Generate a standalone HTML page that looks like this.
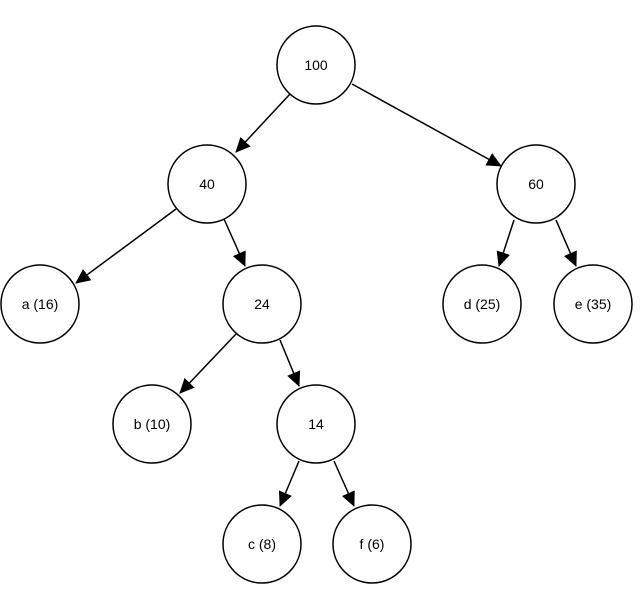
<!DOCTYPE html>
<html><head><meta charset="utf-8"><style>html,body{margin:0;padding:0;background:#fff}</style></head>
<body>
<svg width="641" height="589" viewBox="0 0 641 589" xmlns="http://www.w3.org/2000/svg">
<defs><marker id="a" markerWidth="10" markerHeight="10" refX="9" refY="5" orient="auto" markerUnits="userSpaceOnUse" viewBox="0 0 10 10"><path d="M0,0 L10,5 L0,10 z" fill="#000"/></marker></defs>
<g stroke="#000" stroke-width="1.5" fill="none">
<line x1="290" y1="94" x2="236" y2="152" marker-end="url(#a)" style="marker-end:url(#m)"/>
</g>
<defs><marker id="m" markerWidth="16" markerHeight="16" refX="14" refY="8" orient="auto" markerUnits="userSpaceOnUse"><path d="M0,1 L15,8 L0,15 z" fill="#000"/></marker></defs>
<g stroke="#000" stroke-width="1.5" fill="none" marker-end="url(#m)">
<line x1="352" y1="84" x2="501" y2="166"/>
<line x1="176" y1="209" x2="76" y2="283"/>
<line x1="224" y1="219" x2="245" y2="266"/>
<line x1="514" y1="220" x2="499" y2="266"/>
<line x1="556" y1="220" x2="576" y2="266"/>
<line x1="236" y1="334" x2="180" y2="393"/>
<line x1="280" y1="340" x2="299" y2="386"/>
<line x1="299" y1="461" x2="280" y2="506"/>
<line x1="334" y1="461" x2="354" y2="506"/>
</g>
<g stroke="#000" stroke-width="1.5" fill="#fff">
<circle cx="316" cy="65" r="39"/>
<circle cx="207" cy="184" r="39"/>
<circle cx="536" cy="184" r="39"/>
<circle cx="40" cy="304" r="39"/>
<circle cx="262" cy="304" r="39"/>
<circle cx="482" cy="304" r="39"/>
<circle cx="593" cy="304" r="39"/>
<circle cx="152" cy="424" r="39"/>
<circle cx="316" cy="424" r="39"/>
<circle cx="262" cy="544" r="39"/>
<circle cx="372" cy="544" r="39"/>
</g>
<g font-family="Liberation Sans, sans-serif" font-size="14" text-anchor="middle" fill="#000">
<text x="316" y="70">100</text>
<text x="207" y="189">40</text>
<text x="536" y="189">60</text>
<text x="40" y="309">a (16)</text>
<text x="262" y="309">24</text>
<text x="482" y="309">d (25)</text>
<text x="593" y="309">e (35)</text>
<text x="152" y="429">b (10)</text>
<text x="316" y="429">14</text>
<text x="262" y="549">c (8)</text>
<text x="372" y="549">f (6)</text>
</g>
</svg>
</body></html>
